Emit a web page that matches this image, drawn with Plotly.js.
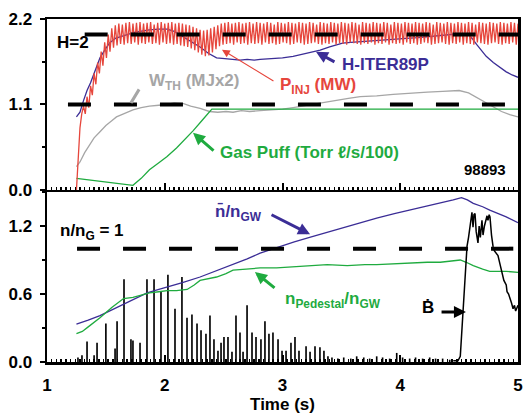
<!DOCTYPE html>
<html>
<head>
<meta charset="utf-8">
<script src="https://cdn.plot.ly/plotly-3.0.1.min.js"></script>
<style>html,body{margin:0;padding:0;background:#fff;}#chart{width:523px;height:417px;}</style>
</head>
<body>
<div id="chart"></div>
<script>
// ---------- top panel data ----------
const hRefT = [1.32, 5.0];          // H = 2 reference
const hRefV = [2.0, 2.0];
const wRefT = [1.178, 4.89];        // 1.1 reference
const wRefV = [1.1, 1.1];

// P_INJ (MW), sampled every 0.015 s starting at 1.25 s
const pInjStart = 1.25;
const pInjStep = 0.015;
const pInjV = [
 0.00,0.50,0.80,0.98,1.08,0.98,1.20,1.06,1.34,1.22,
 1.50,1.36,1.64,1.50,1.78,1.60,1.90,1.70,2.00,1.78,
 2.08,1.83,2.12,1.86,2.14,1.88,2.13,1.87,2.15,1.89,
 2.16,1.88,2.14,1.90,2.15,1.87,2.16,1.89,2.14,1.88,
 2.15,1.90,2.16,1.88,2.13,1.89,2.15,1.87,2.16,1.90,
 2.14,1.88,2.15,1.89,2.16,1.87,2.14,1.88,2.15,1.86,
 2.14,1.85,2.13,1.84,2.12,1.82,2.10,1.80,2.08,1.77,
 2.06,1.74,2.05,1.72,2.06,1.73,2.08,1.77,2.10,1.81,
 2.12,1.85,2.14,1.87,2.15,1.88,2.16,1.89,2.14,1.87,
 2.15,1.90,2.16,1.88,2.14,1.89,2.15,1.87,2.16,1.89,
 2.14,1.88,2.16,1.89,2.15,1.87,2.14,1.90,2.16,1.88,
 2.15,1.89,2.13,1.87,2.16,1.88,2.15,1.90,2.14,1.89,
 2.16,1.87,2.15,1.88,2.14,1.90,2.16,1.89,2.15,1.87,
 2.14,1.88,2.16,1.89,2.15,1.90,2.13,1.88,2.16,1.87,
 2.15,1.89,2.14,1.88,2.16,1.90,2.15,1.87,2.14,1.89,
 2.16,1.88,2.15,1.87,2.14,1.90,2.16,1.89,2.15,1.88,
 2.13,1.87,2.16,1.89,2.15,1.88,2.14,1.90,2.16,1.87,
 2.15,1.89,2.14,1.88,2.16,1.90,2.15,1.87,2.13,1.89,
 2.16,1.88,2.15,1.89,2.14,1.87,2.16,1.90,2.15,1.88,
 2.14,1.89,2.16,1.87,2.15,1.88,2.14,1.90,2.16,1.89,
 2.15,1.87,2.13,1.88,2.16,1.89,2.15,1.90,2.14,1.88,
 2.16,1.87,2.15,1.89,2.14,1.88,2.16,1.90,2.15,1.87,
 2.14,1.89,2.16,1.88,2.15,1.87,2.13,1.90,2.16,1.89,
 2.15,1.88,2.14,1.87,2.16,1.89,2.15,1.90,2.14,1.88,
 2.16,1.87,2.15,1.89,2.14,1.88,2.16,1.90,2.15,1.87,
 2.14
];

const hIterT = [1.25,1.28,1.31,1.34,1.37,1.41,1.45,1.49,1.53,1.58,1.63,1.68,1.75,1.82,1.87,1.95,2.02,2.08,2.16,2.23,2.30,2.37,2.44,2.51,2.58,2.64,2.70,2.76,2.81,2.90,3.00,3.09,3.15,3.20,3.26,3.32,3.40,3.46,3.51,3.58,3.66,3.75,3.85,3.94,4.05,4.15,4.23,4.32,4.42,4.50,4.57,4.61,4.65,4.68,4.73,4.79,4.85,4.90,4.95,5.00];
const hIterV = [0.94,1.00,1.15,1.28,1.38,1.55,1.70,1.80,1.89,1.95,1.98,2.00,2.03,2.05,2.06,2.07,2.07,2.04,1.97,1.91,1.84,1.76,1.70,1.69,1.68,1.67,1.68,1.67,1.68,1.69,1.70,1.72,1.74,1.76,1.78,1.80,1.84,1.87,1.89,1.90,1.91,1.92,1.93,1.94,1.95,1.96,1.97,1.99,2.00,2.01,2.01,1.95,1.87,1.81,1.72,1.64,1.57,1.52,1.48,1.45];

const wthT = [1.25,1.28,1.32,1.36,1.40,1.45,1.50,1.55,1.59,1.65,1.73,1.80,1.87,1.95,2.02,2.08,2.16,2.22,2.30,2.38,2.45,2.52,2.58,2.65,2.72,2.81,2.90,3.00,3.09,3.20,3.30,3.38,3.46,3.56,3.66,3.80,3.94,4.08,4.23,4.36,4.50,4.58,4.65,4.72,4.79,4.86,4.93,5.00];
const wthV = [0.30,0.36,0.48,0.58,0.67,0.75,0.83,0.89,0.94,0.98,1.03,1.06,1.08,1.09,1.10,1.12,1.11,1.08,1.05,1.01,1.00,1.01,1.00,1.02,1.01,1.02,1.03,1.04,1.06,1.09,1.11,1.13,1.16,1.18,1.20,1.21,1.23,1.24,1.26,1.27,1.28,1.25,1.19,1.12,1.06,1.01,0.97,0.94];

const gasT = [1.25,1.73,1.80,1.87,1.95,2.02,2.10,2.17,2.24,2.32,2.40,2.60,3.00,3.50,4.00,4.50,5.00];
const gasV = [0.15,0.06,0.15,0.26,0.35,0.43,0.54,0.65,0.76,0.90,1.04,1.04,1.04,1.04,1.04,1.04,1.04];

// ---------- bottom panel data ----------
const nRefT = [1.255, 4.96];
const nRefV = [1.0, 1.0];

const nbarT = [1.25,1.30,1.35,1.45,1.55,1.65,1.73,1.85,1.95,2.02,2.15,2.30,2.45,2.58,2.70,2.81,2.95,3.10,3.23,3.40,3.55,3.66,3.80,3.95,4.08,4.20,4.34,4.45,4.52,4.57,4.62,4.70,4.76,4.83,4.90,5.00];
const nbarV = [0.335,0.35,0.37,0.41,0.46,0.51,0.55,0.61,0.64,0.66,0.70,0.75,0.81,0.86,0.91,0.96,1.01,1.06,1.10,1.15,1.20,1.23,1.27,1.31,1.34,1.37,1.40,1.43,1.45,1.43,1.40,1.37,1.34,1.31,1.28,1.23];

const nPedT = [1.25,1.30,1.35,1.45,1.55,1.65,1.73,1.80,1.87,1.95,2.02,2.10,2.19,2.25,2.30,2.44,2.52,2.58,2.70,2.81,2.95,3.09,3.20,3.38,3.55,3.70,3.80,4.00,4.23,4.34,4.51,4.56,4.62,4.70,4.76,4.83,4.90,5.00];
const nPedV = [0.25,0.27,0.31,0.39,0.48,0.56,0.57,0.59,0.61,0.62,0.63,0.63,0.64,0.68,0.72,0.75,0.78,0.81,0.82,0.83,0.83,0.84,0.85,0.86,0.85,0.86,0.86,0.87,0.88,0.88,0.90,0.88,0.85,0.82,0.80,0.80,0.80,0.79];

// B-dot (Mirnov) spikes
const spikeT = [1.263,1.297,1.340,1.400,1.425,1.500,1.578,1.595,1.654,1.713,1.730,1.790,1.849,1.909,1.968,2.027,2.087,2.146,2.189,2.231,2.274,2.308,2.350,2.384,2.418,2.452,2.478,2.503,2.537,2.571,2.605,2.639,2.665,2.699,2.741,2.775,2.817,2.851,2.885,2.919,2.962,2.996,3.030,3.072,3.106,3.140,3.200,3.234,3.276,3.318,3.352,3.386,3.420,3.47,3.52,3.58,3.63,3.69,3.74,3.80,3.85,3.91,3.97,4.02,4.08,4.13,4.19,4.25,4.30,4.36,4.42];
const spikeV = [0.04,0.06,0.18,0.06,0.17,0.34,0.12,0.36,0.73,0.20,0.19,0.17,0.73,0.73,0.62,0.77,0.47,0.75,0.39,0.42,0.34,0.28,0.25,0.41,0.20,0.10,0.17,0.22,0.22,0.09,0.41,0.26,0.09,0.50,0.26,0.22,0.20,0.36,0.25,0.26,0.20,0.10,0.10,0.17,0.22,0.10,0.14,0.09,0.14,0.13,0.10,0.05,0.04,0.03,0.04,0.03,0.05,0.04,0.03,0.05,0.04,0.03,0.08,0.04,0.03,0.04,0.03,0.04,0.03,0.03,0.02];

// B-dot burst after the pellet
const burstT = [4.45,4.49,4.51,4.53,4.55,4.567,4.58,4.60,4.609,4.618,4.626,4.635,4.645,4.66,4.67,4.68,4.694,4.703,4.715,4.737,4.745,4.755,4.762,4.775,4.788,4.80,4.83,4.85,4.864,4.88,4.90,4.907,4.92,4.932,4.945,4.958,4.97,4.98,4.992,5.00];
const burstV = [0.01,0.01,0.05,0.40,0.75,1.02,1.10,1.25,1.32,1.19,1.30,1.31,1.15,1.05,1.20,1.10,1.25,1.12,1.20,1.29,1.25,1.30,1.28,1.12,1.02,0.98,0.94,0.85,0.80,0.72,0.68,0.62,0.60,0.55,0.52,0.47,0.50,0.45,0.48,0.50];

// ---------- styling ----------
const RED = '#e6463c', PURPLE = '#3b2d96', GRAY = '#a6a6a6', GREEN = '#1fab3f';
const FONT = 'Liberation Sans, Arial, Helvetica, sans-serif';
const dash = '23px,23px';

const traces = [
  {x: wthT, y: wthV, xaxis:'x', yaxis:'y', mode:'lines', line:{color:GRAY, width:1.3}},
  {x: gasT, y: gasV, xaxis:'x', yaxis:'y', mode:'lines', line:{color:GREEN, width:1.3}},
  {x: hIterT, y: hIterV, xaxis:'x', yaxis:'y', mode:'lines', line:{color:PURPLE, width:1.3}},
  {x0: pInjStart, dx: pInjStep, y: pInjV, xaxis:'x', yaxis:'y', mode:'lines', line:{color:RED, width:1.3}},
  {x: hRefT, y: hRefV, xaxis:'x', yaxis:'y', mode:'lines', line:{color:'black', width:4, dash:dash}},
  {x: wRefT, y: wRefV, xaxis:'x', yaxis:'y', mode:'lines', line:{color:'black', width:4, dash:dash}},

  {x: nbarT, y: nbarV, xaxis:'x2', yaxis:'y2', mode:'lines', line:{color:PURPLE, width:1.3}},
  {x: nPedT, y: nPedV, xaxis:'x2', yaxis:'y2', mode:'lines', line:{color:GREEN, width:1.3}},
  {x: nRefT, y: nRefV, xaxis:'x2', yaxis:'y2', mode:'lines', line:{color:'black', width:4, dash:dash}},
  {type:'bar', x: spikeT, y: spikeV, xaxis:'x2', yaxis:'y2', width:0.014, marker:{color:'black', line:{width:0}}},
  {x: burstT, y: burstV, xaxis:'x2', yaxis:'y2', mode:'lines', line:{color:'black', width:1.5}}
];

const xCommon = {
  range:[1,5], dtick:1, tick0:1, ticks:'inside', ticklen:7, tickwidth:2, tickcolor:'black',
  showline:true, mirror:true, linewidth:2.5, linecolor:'black', showgrid:false, zeroline:false,
  minor:{dtick:0.04, tick0:1, ticks:'inside', ticklen:3, tickwidth:1.5, tickcolor:'black', showgrid:false},
  fixedrange:true
};
const yCommon = {
  ticks:'outside', ticklen:5, tickwidth:2, tickcolor:'black', tickformat:'.1f', tick0:0,
  showline:true, mirror:true, linewidth:2.5, linecolor:'black', showgrid:false, zeroline:false,
  ticklabelstandoff:4,
  tickfont:{family:FONT, size:17, color:'black', weight:'bold'},
  fixedrange:true
};

function ann(text, x, y, color, size, xref, yref, xanchor) {
  return {text:text, x:x, y:y, xref:xref, yref:yref, showarrow:false, xanchor:xanchor||'left', yanchor:'middle',
    font:{family:FONT, size:size, color:color, weight:'bold'}};
}
function arrow(x, y, ax, ay, color, w, head, xref, yref, asize) {
  return {text:'', x:x, y:y, ax:ax, ay:ay, xref:xref, yref:yref, axref:xref, ayref:yref,
    showarrow:true, arrowhead:head, arrowsize:asize||1, arrowwidth:w, arrowcolor:color, standoff:0, startstandoff:0};
}

const annotations = [
  ann('H=2', 1.068, 1.894, 'black', 17, 'x', 'y'),
  ann('W<sub>TH</sub> (MJx2)', 1.849, 1.392, GRAY, 17, 'x', 'y'),
  arrow(1.713, 1.121, 1.79, 1.314, GRAY, 3, 0, 'x', 'y'),
  ann('P<sub>INJ</sub> (MW)', 2.962, 1.34, RED, 17, 'x', 'y'),
  arrow(2.486, 1.804, 2.936, 1.392, RED, 1.2, 2, 'x', 'y', 1.3),
  ann('H-ITER89P', 3.488, 1.611, PURPLE, 17, 'x', 'y'),
  arrow(3.284, 1.778, 3.454, 1.637, PURPLE, 3, 2, 'x', 'y', 0.8),
  ann('Gas Puff (Torr \u2113/s/100)', 2.452, 0.477, GREEN, 17, 'x', 'y'),
  arrow(2.24, 0.735, 2.427, 0.49, GREEN, 3, 2, 'x', 'y', 0.8),
  ann('98893', 4.915, 0.258, 'black', 15, 'x', 'y', 'right'),

  ann('n/n<sub>G</sub> = 1', 1.093, 1.147, 'black', 17, 'x2', 'y2'),
  ann('n\u0304/n<sub>GW</sub>', 2.41, 1.315, PURPLE, 17, 'x2', 'y2'),
  arrow(3.234, 1.127, 2.894, 1.306, PURPLE, 3, 2, 'x2', 'y2', 0.8),
  ann('n<sub>Pedestal</sub>/n<sub>GW</sub>', 3.004, 0.547, GREEN, 17, 'x2', 'y2'),
  arrow(2.766, 0.794, 2.945, 0.644, GREEN, 3, 2, 'x2', 'y2', 0.8),
  ann('\u1E02', 4.236, 0.477, 'black', 17, 'x2', 'y2', 'center'),
  arrow(4.558, 0.441, 4.338, 0.441, 'black', 3, 2, 'x2', 'y2', 0.8)
];

const layout = {
  width:523, height:417,
  margin:{l:47, r:5, t:19, b:55},
  paper_bgcolor:'white', plot_bgcolor:'white',
  showlegend:false,
  font:{family:FONT, size:17, color:'black', weight:'bold'},
  xaxis:Object.assign({}, xCommon, {domain:[0,1], anchor:'y', showticklabels:false}),
  yaxis:Object.assign({}, yCommon, {domain:[0.5015,1], anchor:'x', range:[0,2.2], dtick:1.1,
    minor:{dtick:0.55, tick0:0, ticks:'outside', ticklen:3, tickwidth:1.5, tickcolor:'black', showgrid:false}}),
  xaxis2:Object.assign({}, xCommon, {domain:[0,1], anchor:'y2', showticklabels:true, ticklabelstandoff:6,
    tickfont:{family:FONT, size:17, color:'black', weight:'bold'},
    title:{text:'Time (s)', standoff:3, font:{family:FONT, size:17, color:'black', weight:'bold'}}}),
  yaxis2:Object.assign({}, yCommon, {domain:[0,0.4956], anchor:'x2', range:[0,1.5], dtick:0.6,
    minor:{dtick:0.3, tick0:0, ticks:'outside', ticklen:3, tickwidth:1.5, tickcolor:'black', showgrid:false}}),
  annotations:annotations
};

Plotly.newPlot('chart', traces, layout, {displayModeBar:false, staticPlot:true});
</script>
</body>
</html>
